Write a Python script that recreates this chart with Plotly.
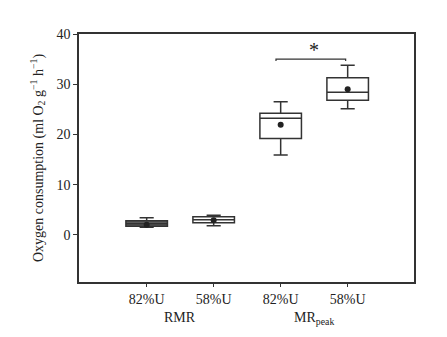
import plotly.graph_objects as go

positions = [0, 1, 2, 3]
tick_labels = ["82%U", "58%U", "82%U", "58%U"]
group_labels = ["RMR", "MR<sub>peak</sub>"]
q1 = [1.7, 2.4, 19.2, 26.8]
median = [2.2, 3.0, 23.2, 28.4]
q3 = [2.8, 3.6, 24.2, 31.3]
lower = [1.5, 1.8, 15.9, 25.1]
upper = [3.4, 3.9, 26.5, 33.8]
means = [2.0, 2.9, 21.9, 29.0]
fills = ["#5a5a5a", "white", "white", "white"]
sig_pair = [2, 3]
sig_level = 35.0

ink = "#333333"
fig = go.Figure()
for i in range(4):
    fig.add_trace(go.Box(
        x=[positions[i]], q1=[q1[i]], median=[median[i]], q3=[q3[i]],
        lowerfence=[lower[i]], upperfence=[upper[i]],
        fillcolor=fills[i], line=dict(color=ink, width=1.5),
        width=0.62, whiskerwidth=0.34, showlegend=False, hoverinfo="skip"))
fig.add_trace(go.Scatter(x=positions, y=means, mode="markers",
                         marker=dict(color="#222222", size=6), showlegend=False))

# significance bracket
fig.add_shape(type="path", xref="x", yref="y",
              path=f"M {sig_pair[0]-0.07},{sig_level-0.4} L {sig_pair[0]-0.07},{sig_level} L {sig_pair[1]-0.03},{sig_level} L {sig_pair[1]-0.03},{sig_level-0.4}",
              line=dict(color=ink, width=1.2))
fig.add_annotation(x=(sig_pair[0] + sig_pair[1]) / 2, y=sig_level, text="*",
                   showarrow=False, yanchor="bottom", yshift=-4,
                   font=dict(size=20, color="#222"))

for j, g in enumerate(group_labels):
    fig.add_annotation(x=0.5 + 2 * j, y=0, xref="x", yref="paper", yshift=-26,
                       text=g, showarrow=False, yanchor="top",
                       font=dict(size=14, color="#222", family="Liberation Serif"))

fig.update_layout(
    width=439, height=329,
    margin=dict(l=71, r=33, t=26, b=55, pad=0, autoexpand=False),
    paper_bgcolor="white", plot_bgcolor="white",
    font=dict(family="Liberation Serif", size=14, color="#222"),
    xaxis=dict(range=[-1.01, 3.99], tickvals=positions, ticktext=tick_labels,
               showline=True, mirror=True, linecolor=ink, linewidth=1.5, automargin=False,
               ticks="outside", ticklen=3, tickcolor=ink, showgrid=False, zeroline=False),
    yaxis=dict(range=[-9.4, 40], tickvals=[0, 10, 20, 30, 40], automargin=False,
               showline=True, mirror=True, linecolor=ink, linewidth=1.5,
               ticks="outside", ticklen=4, tickcolor=ink, showgrid=False, zeroline=False,
               title=dict(text="Oxygen consumption (ml O<sub>2</sub> g<sup>−1</sup> h<sup>−1</sup>)",
                          standoff=10, font=dict(size=14))),
)
fig.write_html("out.html")
